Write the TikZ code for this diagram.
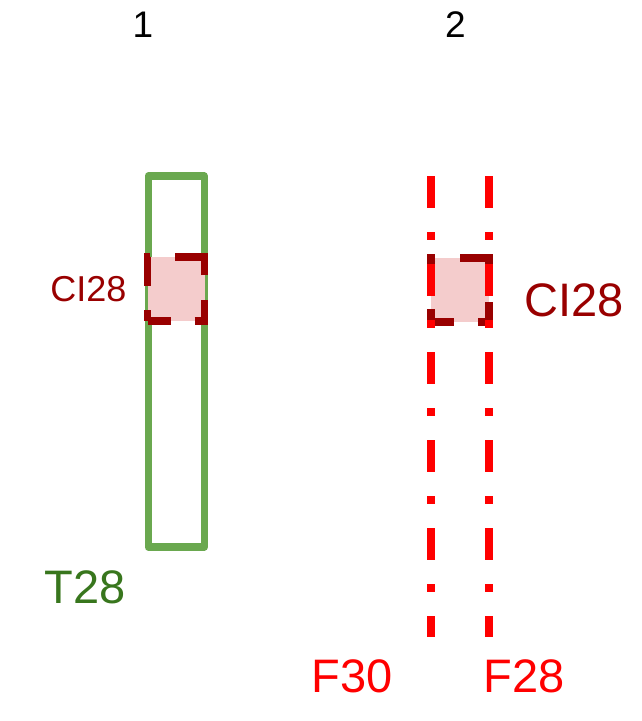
\documentclass[tikz,border=0pt]{standalone}
\usepackage{fontspec}
\setmainfont{Liberation Sans}
\usepackage{tikz}
\usetikzlibrary{positioning}
\definecolor{figgreen}{RGB}{106,168,79}
\definecolor{figdkgreen}{RGB}{56,118,29}
\definecolor{figdkred}{RGB}{153,0,0}
\definecolor{figred}{RGB}{255,0,0}
\definecolor{figpink}{RGB}{244,204,204}
\tikzset{
  trk/.style={draw=figgreen, line width=7.4pt, line join=round,
              minimum width=56pt, minimum height=371pt, inner sep=0pt},
  cibox/.style={draw=figdkred, fill=figpink, line width=7.3pt,
                dash pattern=on 32pt off 24pt on 31pt off 25pt on 48pt off 25pt on 31pt off 24pt,
                dash phase=9pt, minimum width=#1, minimum height=64pt, inner sep=0pt},
  fline/.style={draw=figred, line width=8pt,
                dash pattern=on 32pt off 24pt on 8pt off 24pt},
  lbl/.style={inner sep=0pt, font=\fontsize{#1}{#1}\selectfont},
}

\begin{document}
\begin{tikzpicture}[x=1pt, y=-1pt]
  \useasboundingbox (0,0) rectangle (642,721);

  % lane numbers
  \node[lbl=37] (n1) at (143,24.5) {1};
  \node[lbl=37] (n2) at (455.5,24.5) {2};

  % lane 1: track and its CI box
  \node[trk] (t28) at (176.2,361.6) {};
  \node[cibox=57pt] (ciL) at (176,289) {};
  \node[lbl=36, figdkred] (ciLtxt) at (88.5,289.5) {CI28};
  \node[lbl=47, figdkgreen] (t28txt) at (85,587) {T28};

  % lane 2: CI box between the two dash-dot lines
  \node[cibox=58pt] (ciR) at (460,290) {};
  \node[lbl=47, figdkred, right=32pt of ciR, yshift=-10pt] (ciRtxt) {CI28};

  \coordinate (f30top) at (431,176);
  \coordinate (f30bot) at (431,637);
  \coordinate (f28top) at (489,176);
  \coordinate (f28bot) at (489,637);
  \draw[fline] (f30top) -- (f30bot);
  \draw[fline] (f28top) -- (f28bot);

  \node[lbl=47, figred] (f30txt) at (352,676) {F30};
  \node[lbl=47, figred] (f28txt) at (524,676) {F28};
\end{tikzpicture}
\end{document}
